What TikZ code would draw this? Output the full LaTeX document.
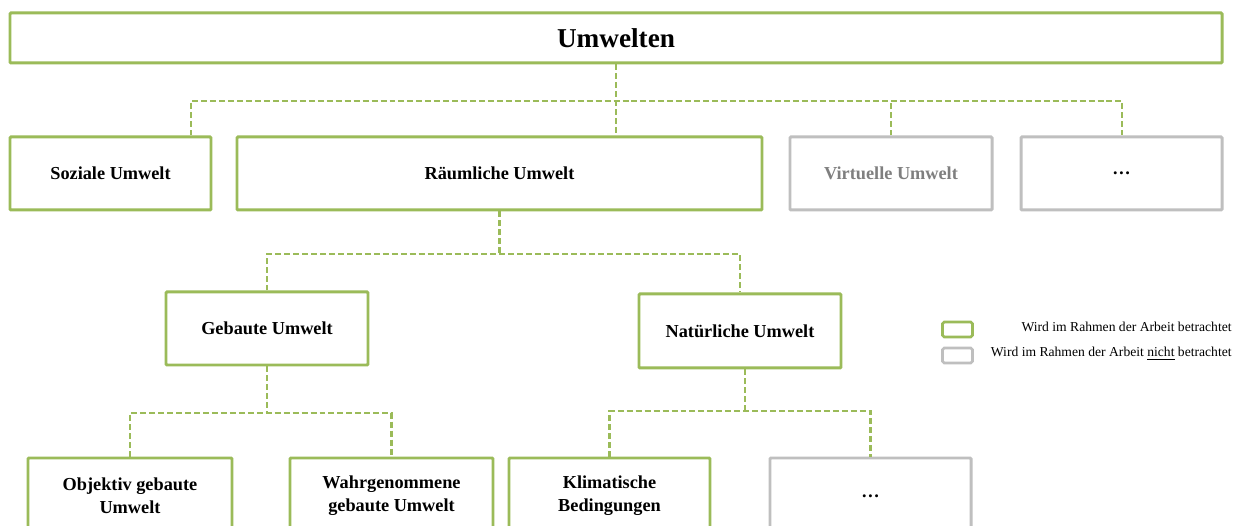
\documentclass[tikz,border=0pt]{standalone}
\usepackage{fontspec}
\setmainfont{Liberation Serif}
\usetikzlibrary{calc}
\definecolor{olive}{HTML}{9BBB59}
\definecolor{lgray}{HTML}{BFBFBF}
\definecolor{dgray}{HTML}{7F7F7F}
\begin{document}
\begin{tikzpicture}[
  box/.style={draw, line width=1.7pt, rounded corners=0.6pt, fill=white, inner sep=0pt,
    align=center, font=\fontsize{10.4}{13}\selectfont\bfseries},
  gbox/.style={box, draw=olive},
  nbox/.style={box, draw=lgray},
  conn/.style={draw=olive, line width=1.25pt, dash pattern=on 3.4pt off 1.7pt},
  legtext/.style={anchor=east, inner sep=0pt, font=\fontsize{7.75}{9}\selectfont},
]
\clip (0,0) rectangle (24.84,-10.52);
\fill[white] (0,0) rectangle (24.84,-10.52);

% top level
\node[gbox, minimum width=24.24cm, minimum height=1.0cm, font=\fontsize{15.5}{18}\selectfont\bfseries]
  (top) at (12.32,-0.76) {Umwelten};

% second level
\node[gbox, minimum width=4.02cm, minimum height=1.46cm] (soz) at (2.21,-3.47) {Soziale Umwelt};
\node[gbox, minimum width=10.5cm, minimum height=1.46cm] (raum) at (9.99,-3.47) {Räumliche Umwelt};
\node[nbox, minimum width=4.04cm, minimum height=1.46cm, text=dgray] (virt) at (17.82,-3.47) {Virtuelle Umwelt};
\node[nbox, minimum width=4.02cm, minimum height=1.46cm] (more1) at (22.43,-3.47) {…};

% third level
\node[gbox, minimum width=4.04cm, minimum height=1.46cm] (geb) at (5.34,-6.57) {Gebaute Umwelt};
\node[gbox, minimum width=4.04cm, minimum height=1.48cm] (nat) at (14.8,-6.62) {Natürliche Umwelt};

% fourth level
\node[gbox, minimum width=4.08cm, minimum height=1.52cm] (obj) at (2.6,-9.92) {Objektiv gebaute\\Umwelt};
\node[gbox, minimum width=4.06cm, minimum height=1.52cm] (wahr) at (7.83,-9.92) {Wahrgenommene\\gebaute Umwelt};
\node[gbox, minimum width=4.02cm, minimum height=1.52cm] (klim) at (12.19,-9.92) {Klimatische\\Bedingungen};
\node[nbox, minimum width=4.02cm, minimum height=1.52cm] (more2) at (17.41,-9.92) {…};

% bus lines
\coordinate (b1l) at (3.82,-2.02);
\coordinate (b1r) at (22.44,-2.02);
\coordinate (b2) at (0,-5.08);
\coordinate (b3) at (0,-8.26);
\coordinate (b4) at (0,-8.22);
\coordinate (natout) at ($(nat.south)+(0.1,0)$);

\draw[conn] (soz.north -| b1l) -- (b1l) -- (b1r) -- (more1.north -| b1r);
\draw[conn] (top.south) -- (raum.north -| top.south);
\draw[conn] (virt.north) -- (virt.north |- b1l);

\draw[conn] (raum.south) -- (raum.south |- b2);
\draw[conn] (geb.north) |- (b2 -| nat.north) -- (nat.north);

\draw[conn] (geb.south) -- (geb.south |- b3);
\draw[conn] (obj.north) |- (b3 -| wahr.north) -- (wahr.north);

\draw[conn] (natout) -- (natout |- b4);
\draw[conn] (klim.north) |- (b4 -| more2.north) -- (more2.north);

% legend
\node[draw=olive, line width=1.5pt, rounded corners=1pt, minimum width=0.6cm, minimum height=0.3cm, inner sep=0pt]
  (leg1) at (19.15,-6.59) {};
\node[draw=lgray, line width=1.5pt, rounded corners=1pt, minimum width=0.6cm, minimum height=0.3cm, inner sep=0pt]
  (leg2) at (19.15,-7.11) {};
\node[legtext] (leg1t) at (24.64,-6.54) {Wird im Rahmen der Arbeit betrachtet};
\node[legtext] (leg2t) at (24.64,-7.08) {Wird im Rahmen der Arbeit \underline{nicht} betrachtet};
\end{tikzpicture}
\end{document}
